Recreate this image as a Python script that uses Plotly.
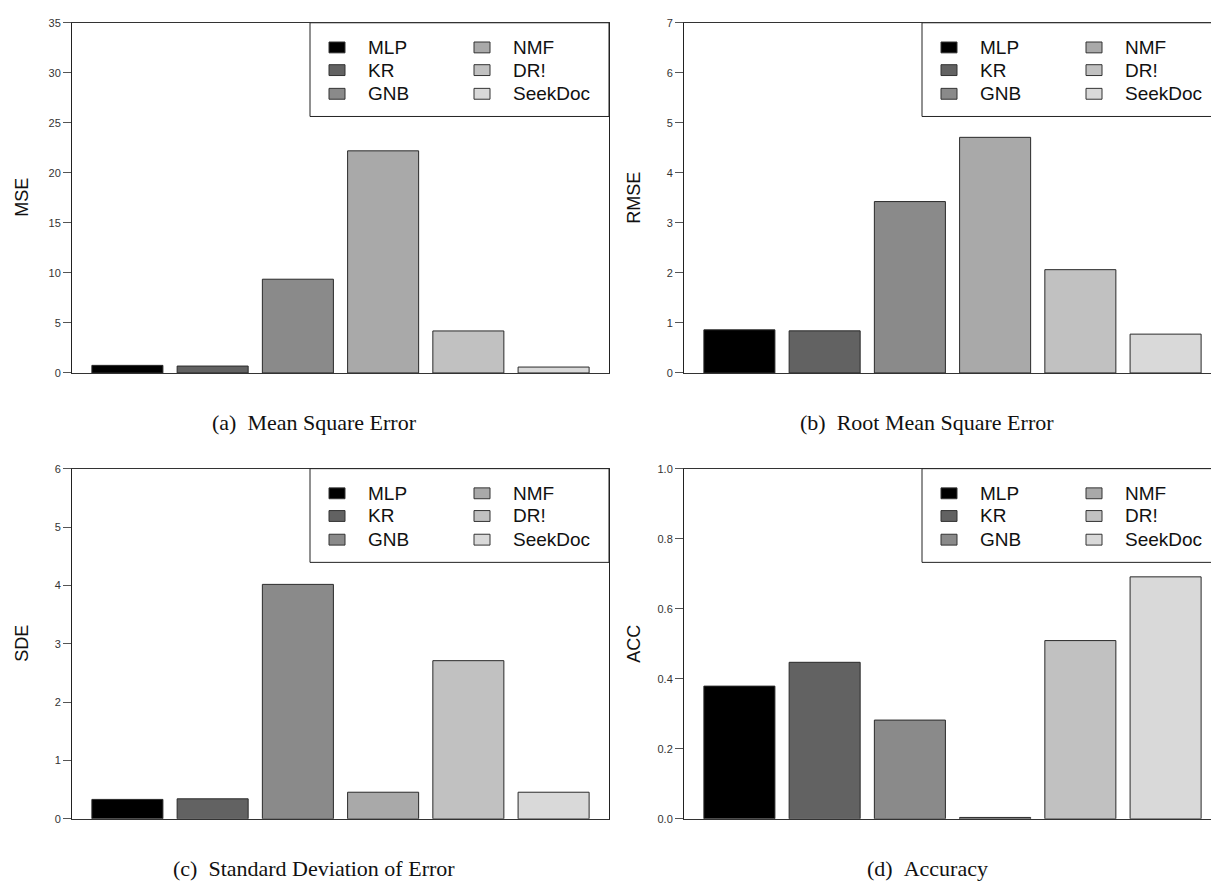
import plotly.graph_objects as go

W, H = 1211, 886

methods = ["MLP", "KR", "GNB", "NMF", "DR!", "SeekDoc"]
colors = ["#000000", "#626262", "#8a8a8a", "#a9a9a9", "#c1c1c1", "#d9d9d9"]

mse = [0.76, 0.69, 9.37, 22.2, 4.2, 0.59]
rmse = [0.862, 0.842, 3.426, 4.71, 2.065, 0.776]
sde = [0.333, 0.343, 4.017, 0.456, 2.71, 0.456]
acc = [0.379, 0.447, 0.282, 0.004, 0.509, 0.691]

ylabels = ["MSE", "RMSE", "SDE", "ACC"]
yranges = [[0, 35], [0, 7], [0, 6], [0, 1]]
ydtick = [5, 1, 1, 0.2]
ytickformat = ["d", "d", "d", ".1f"]
captions = ["(a)\u00a0\u00a0Mean Square Error", "(b)\u00a0\u00a0Root Mean Square Error",
            "(c)\u00a0\u00a0Standard Deviation of Error", "(d)\u00a0\u00a0Accuracy"]
series = [mse, rmse, sde, acc]

# pixel layout: (left, right, top, bottom) of each plot region
panels = [
    (72, 609, 17, 372),
    (684, 1211, 17, 372),
    (72, 609, 469, 824),
    (684, 1211, 469, 824),
]
unit_px = 537 / 6.3  # pixels per category slot
cap_cx = [314, 927, 314, 927]


def px(x):
    return x / W


def py(y):
    return 1 - y / H


fig = go.Figure()
shapes = []
annotations = []

for i, (l, r, t, b) in enumerate(panels):
    n = "" if i == 0 else str(i + 1)
    xa = "x" + n
    ya = "y" + n
    fig.add_trace(go.Bar(
        x=methods, y=series[i], width=1 / 1.2,
        marker=dict(color=colors, line=dict(color="#2a2a2a", width=1)),
        xaxis=xa, yaxis=ya, showlegend=False,
    ))
    xr = [-0.65, -0.65 + (r - l) / unit_px]
    right_edge = r < W
    fig.update_layout(**{
        "xaxis" + n: dict(domain=[px(l), px(r)], anchor=ya, range=xr, type="category",
                          showticklabels=False, ticks="", showgrid=False, zeroline=False,
                          showline=True, mirror=True, linecolor="#333333", linewidth=1,
                          fixedrange=True),
        "yaxis" + n: dict(domain=[py(b), py(t)], anchor=xa, range=yranges[i],
                          dtick=ydtick[i], tick0=0, tickformat=ytickformat[i],
                          ticks="outside", ticklen=8, tickcolor="#555555", tickwidth=1,
                          tickfont=dict(family="Liberation Sans, Arial", size=11, color="#333333"),
                          showgrid=False, zeroline=False, showline=True,
                          mirror=right_edge, linecolor="#222222", linewidth=1,
                          fixedrange=True),
    })
    # y axis title
    annotations.append(dict(text=ylabels[i], xref="paper", yref="paper",
                            x=px(l - 50), y=py((t + b) / 2), textangle=-90,
                            xanchor="center", yanchor="middle", showarrow=False,
                            font=dict(family="Liberation Sans, Arial", size=18, color="#111111")))
    # caption
    annotations.append(dict(text=captions[i], xref="paper", yref="paper",
                            x=px(cap_cx[i]), y=py(b + 50), xanchor="center", yanchor="middle",
                            showarrow=False,
                            font=dict(family="Liberation Serif, Times New Roman", size=22, color="#111111")))
    # legend box
    lx0 = l + 238
    lx1 = l + 537
    shapes.append(dict(type="rect", xref="paper", yref="paper",
                       x0=px(lx0), x1=px(lx1), y0=py(t + 95), y1=py(t),
                       line=dict(color="#222222", width=1), fillcolor="white", layer="above"))
    for k, m in enumerate(methods):
        col = k // 3
        row = k % 3
        sx = lx0 + (19 if col == 0 else 164)
        tx = lx0 + (56 if col == 0 else 201)
        cy = t + [25, 48, 72][row]
        shapes.append(dict(type="rect", xref="paper", yref="paper",
                           x0=px(sx), x1=px(sx + 16), y0=py(cy + 5.5), y1=py(cy - 5.5),
                           line=dict(color="#333333", width=1), fillcolor=colors[k], layer="above"))
        annotations.append(dict(text=m, xref="paper", yref="paper", x=px(tx), y=py(cy),
                                xanchor="left", yanchor="middle", showarrow=False,
                                font=dict(family="Liberation Sans, Arial", size=19, color="#111111")))

fig.update_layout(width=W, height=H, margin=dict(l=0, r=0, t=0, b=0),
                  paper_bgcolor="white", plot_bgcolor="white",
                  shapes=shapes, annotations=annotations, showlegend=False)

fig.write_html("out.html", config={"displayModeBar": False, "staticPlot": True},
               post_script="document.body.style.margin='0px';document.body.style.overflow='hidden';")
